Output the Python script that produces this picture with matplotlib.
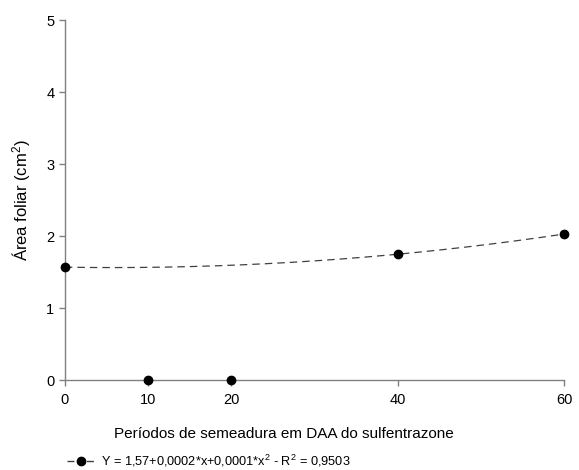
import matplotlib
matplotlib.use("Agg")
import matplotlib.pyplot as plt
from matplotlib.lines import Line2D
import numpy as np

plt.rcParams['font.family'] = ['Liberation Sans', 'DejaVu Sans']
plt.rcParams['mathtext.fontset'] = 'custom'
plt.rcParams['mathtext.rm'] = 'Liberation Sans'
plt.rcParams['mathtext.default'] = 'regular'

# observed means
periodos = [0, 10, 20, 40, 60]
area = [1.57, 0.0, 0.0, 1.75, 2.03]

# points used for the trendline (quadratic through the non-zero means)
fit_x = [0, 40, 60]
fit_y = [1.57, 1.75, 2.03]
legenda = "Y = 1,57+0,0002*x+0,0001*x$^2$ - R$^2$ = 0,9503"

fig = plt.figure(figsize=(5.79, 4.70), dpi=100)
ax = fig.add_axes([0.112, 0.191, 0.862, 0.766])

coef = np.polyfit(fit_x, fit_y, 2)
xs = np.linspace(0, 60, 200)
ax.plot(xs, np.polyval(coef, xs), ls=(0, (6, 4)), color='#404040', lw=0.9)
ax.plot(periodos, area, 'o', color='black', ms=6, clip_on=False, zorder=5)

ax.set_xlim(0, 60)
ax.set_ylim(0, 5)
ax.set_xticks([0, 10, 20, 40, 60])
ax.set_yticks([0, 1, 2, 3, 4, 5])
for s in ['top', 'right']:
    ax.spines[s].set_visible(False)
for s in ['left', 'bottom']:
    ax.spines[s].set_color('#808080')
    ax.spines[s].set_linewidth(1.0)
ax.tick_params(colors='#808080', labelcolor='black', labelsize=10.5, length=4, width=1.0)
ax.tick_params(axis='x', pad=5)

ax.set_xlabel("Períodos de semeadura em DAA do sulfentrazone", fontsize=11)
ax.xaxis.set_label_coords((284 - 65) / 499, -0.13)
ax.set_ylabel("Área foliar (cm$^2$)", fontsize=12)
ax.yaxis.set_label_coords(-0.064, 0.5)

h = Line2D([], [], ls=(0, (5, 2)), color='#404040', lw=1, marker='o', mfc='black', mec='black', ms=6)
fig.legend([h], [legenda], loc='center left', bbox_to_anchor=(0.115, 0.02), frameon=False,
           fontsize=9.2, handlelength=2.2, handletextpad=0.5, borderpad=0, borderaxespad=0)

fig.savefig("out.png", dpi=100)
